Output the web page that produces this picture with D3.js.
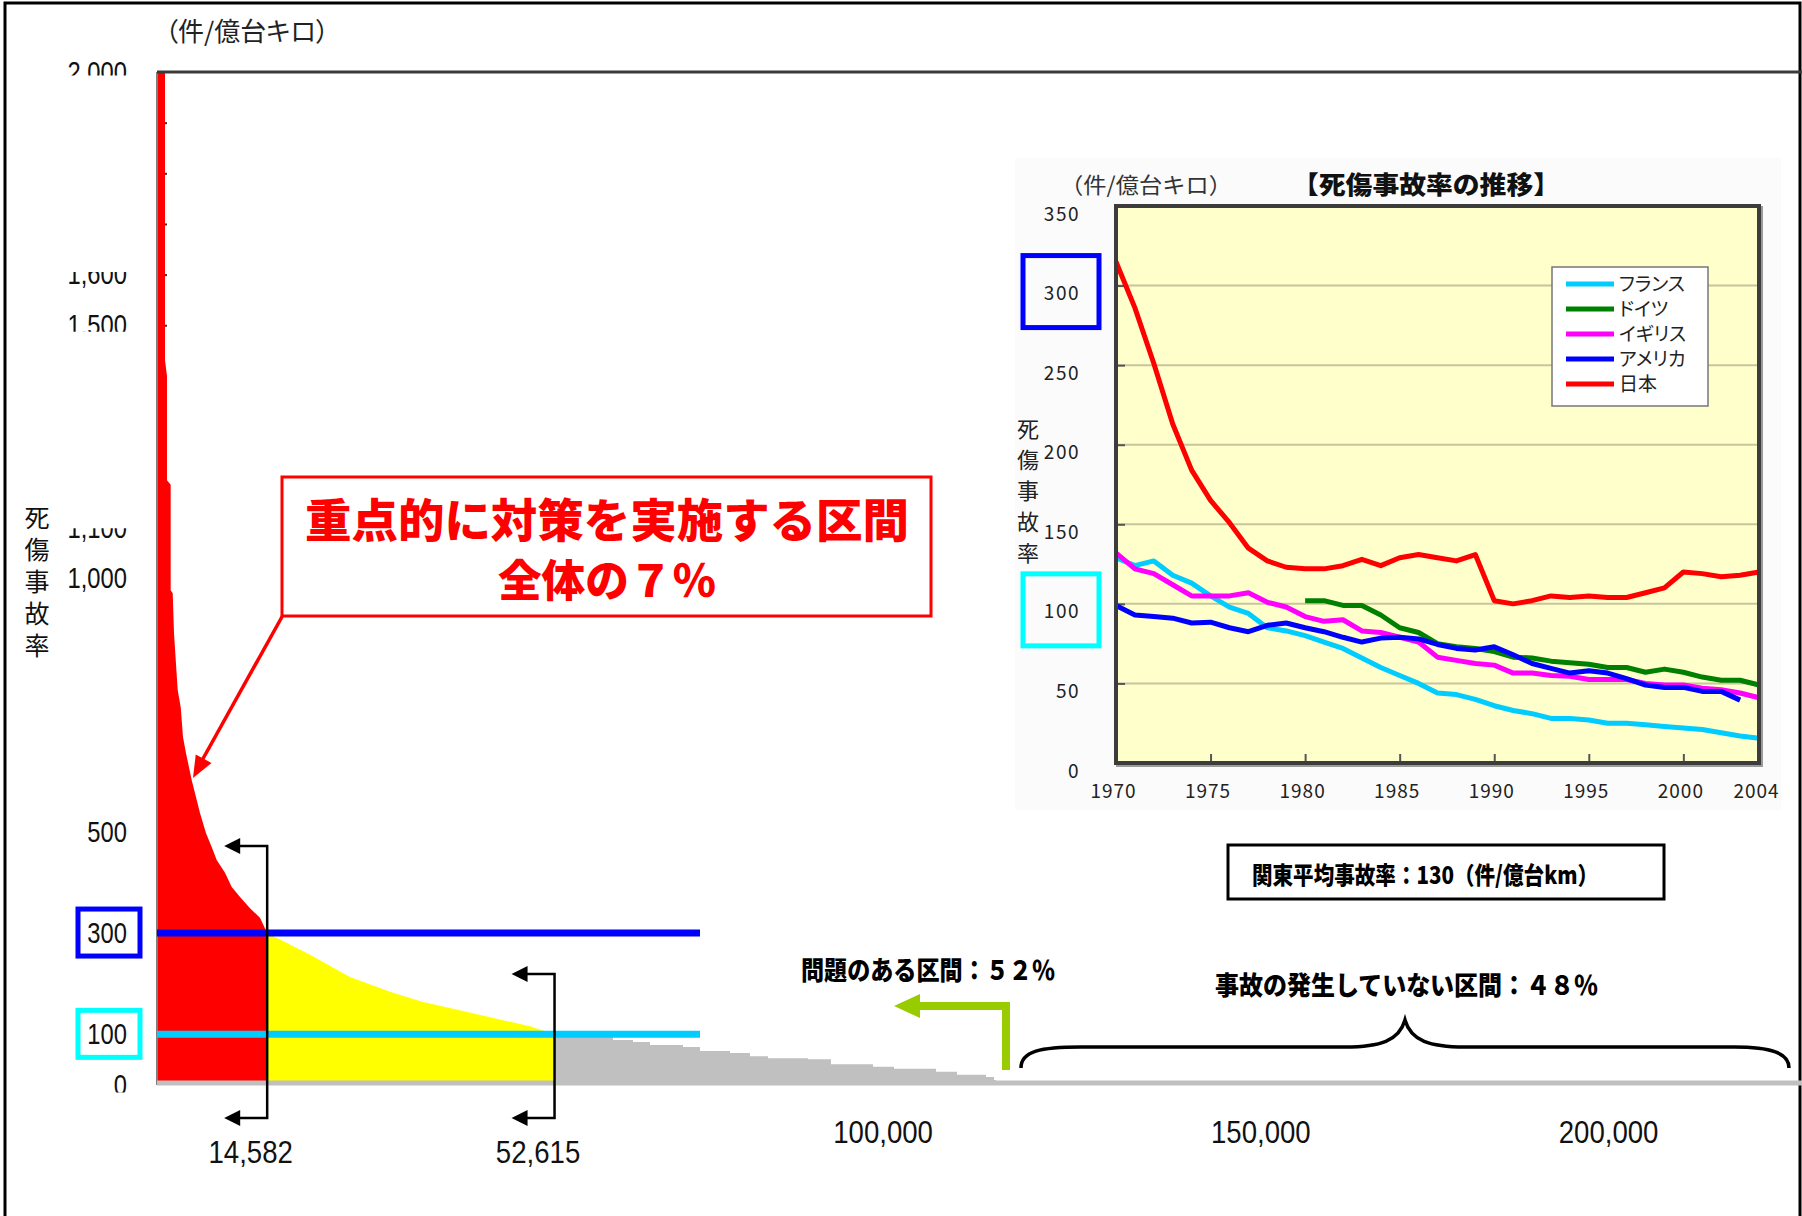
<!DOCTYPE html>
<html>
<head>
<meta charset="utf-8">
<script src="https://cdn.jsdelivr.net/npm/d3@7"></script>
<style>
  html, body { margin: 0; padding: 0; background: #fff; }
  svg { display: block; }
</style>
</head>
<body>
<svg id="chart" width="1802" height="1216"></svg>
<script>
// ---------- Road sections sorted by casualty-accident rate (件/億台キロ) ----------
const sectionRank = [0, 1060, 1060, 1320, 1320, 1810, 1810, 2080, 2250, 2740, 3140, 3440, 3840, 4590,
  5250, 5690, 6490, 7240, 7900, 9000, 9890, 10990, 12310, 13630, 14582,
  20250, 25540, 30840, 35210, 40500, 45790, 49370, 52615,
  53730, 57710, 60350, 63000, 65250, 69620, 71870, 75840, 78480, 80870, 86160, 89200,
  94760, 97540, 103100, 105880, 109720, 110780, 111040];
const accidentRate = [2000, 2000, 1431, 1400, 1194, 1185, 977, 971, 892, 780, 746, 687, 655, 602,
  563, 537, 497, 470, 444, 419, 391, 371, 349, 330, 300,
  257, 213, 184, 164, 146, 128, 116, 100,
  100, 95, 89, 85, 79, 75, 67, 63, 57, 53, 51, 41,
  36, 32, 26, 20, 16, 10, 0];
const redLimit = 14582;      // sections at 300 or above
const yellowLimit = 52615;   // sections at 100 or above
const sectionTotal = 216000;
const thresholdValues = [300, 100];
const rateTicks = [0, 100, 300, 500, 1000, 1100, 1500, 1600, 2000];
const rankTicks = [100000, 150000, 200000];
const boundaryTicks = [redLimit, yellowLimit];

// ---------- International trend 1970-2004 ----------
const years = [1970, 1971, 1972, 1973, 1974, 1975, 1976, 1977, 1978, 1979, 1980, 1981, 1982, 1983,
  1984, 1985, 1986, 1987, 1988, 1989, 1990, 1991, 1992, 1993, 1994, 1995, 1996, 1997, 1998, 1999,
  2000, 2001, 2002, 2003, 2004];
const franceRate = [129, 124, 127, 118, 113, 105, 98, 94, 85, 83, 80, 76, 72, 66, 60, 55, 50, 44, 43, 40,
  36, 33, 31, 28, 28, 27, 25, 25, 24, 23, 22, 21, 19, 17, 15.5];
const germanyRate = [null, null, null, null, null, null, null, null, null, null, 102, 102, 99, 99, 93, 85,
  82, 75, 73, 72, 70, 66.5, 66, 64, 63, 62, 60, 60, 57, 59, 57, 54, 52, 52, 49];
const ukRate = [132, 122, 119, 112, 105, 105, 105, 107, 101, 98, 92, 89, 90, 83, 82, 79, 76, 66.5, 64.5,
  62.5, 61.5, 56.5, 56.5, 55, 54.5, 52.5, 52.5, 52.5, 50, 49, 49, 47, 46, 44, 41];
const usaRate = [99, 93, 92, 91, 88, 88.5, 85, 82.5, 86.5, 88, 85, 82.5, 79, 76, 78.5, 79, 78, 74.5, 72,
  71, 73, 68, 62.5, 59.5, 56.5, 58, 56.5, 53, 49, 47.5, 47.5, 45, 45, 39.5, null];
const japanRate = [315, 286, 251, 213, 184, 165, 151, 135, 127, 123, 122, 122, 124, 128, 124, 129, 131,
  129, 127, 131, 102, 100, 102, 105, 104, 105, 104, 104, 107, 110, 120, 119, 117, 118, 120];
const countryNames = ["フランス", "ドイツ", "イギリス", "アメリカ", "日本"];
const insetYTicks = [0, 50, 100, 150, 200, 250, 300, 350];
const insetXTicks = [1970, 1975, 1980, 1985, 1990, 1995, 2000, 2004];

// ---------- drawing ----------
const W = 1802, H = 1216;
const FONT_NUM = "'Liberation Sans',Arial,sans-serif";
const FONT_JP = "'Noto Sans CJK JP','Noto Sans JP',sans-serif";

const svg = d3.select("#chart");
const defs = svg.append("defs");
svg.append("rect").attr("width", W).attr("height", H).attr("fill", "#fff");

// outer frame
svg.append("path").attr("d", `M5,${H} V3 H1800 V${H}`)
  .attr("fill", "none").attr("stroke", "#000").attr("stroke-width", 3);

// scales of the main distribution
const xs = d3.scaleLinear().domain([0, sectionTotal]).range([157, 1789]);
const ys = d3.scaleLinear().domain([0, 2000]).range([1085, 72]);

// unit label
svg.append("text").attr("x", 165).attr("y", 41)
  .style("font-family", FONT_JP).style("font-size", "26px").style("font-feature-settings", "'palt'")
  .attr("fill", "#222").text("（件/億台キロ）");

// inner minor ticks
svg.append("g").attr("transform", `translate(${xs(0)},0)`)
  .call(d3.axisRight(ys).tickValues(d3.range(100, 2000, 100)).tickSize(10).tickFormat(""))
  .call(g => g.select(".domain").remove())
  .selectAll("line").attr("stroke", "#333").attr("stroke-width", 2);

// distribution area, coloured by band
const rows = sectionRank.map((r, i) => ({ rank: r, rate: accidentRate[i] }));
const areaLinear = d3.area().x(d => xs(d.rank)).y0(ys(0)).y1(d => ys(d.rate));
const areaStep = d3.area().curve(d3.curveStepAfter).x(d => xs(d.rank)).y0(ys(0)).y1(d => ys(d.rate));
const bands = [
  { id: "band-red", from: 0, to: redLimit, color: "#FF0000", gen: areaLinear, data: rows },
  { id: "band-yellow", from: redLimit, to: yellowLimit, color: "#FFFF00", gen: areaLinear, data: rows },
  { id: "band-gray", from: yellowLimit, to: sectionTotal, color: "#C0C0C0", gen: areaStep,
    data: rows.filter(d => d.rank >= yellowLimit) }
];
bands.forEach(b => {
  defs.append("clipPath").attr("id", b.id).append("rect")
    .attr("x", xs(b.from)).attr("y", 0).attr("width", xs(b.to) - xs(b.from)).attr("height", H);
  svg.append("path").attr("d", b.gen(b.data)).attr("fill", b.color)
    .attr("clip-path", `url(#${b.id})`);
});

// plot frame pieces
svg.append("line").attr("x1", xs(0)).attr("x2", xs(0)).attr("y1", ys(2000)).attr("y2", ys(0))
  .attr("stroke", "#7f7f7f").attr("stroke-width", 2);
svg.append("line").attr("x1", xs(0)).attr("x2", W).attr("y1", ys(2000)).attr("y2", ys(2000))
  .attr("stroke", "#3a3a3a").attr("stroke-width", 3);
svg.append("line").attr("x1", xs(0)).attr("x2", W).attr("y1", ys(0) - 2).attr("y2", ys(0) - 2)
  .attr("stroke", "#C0C0C0").attr("stroke-width", 5);

// threshold lines and their boxed labels
const thresholdColors = ["#0000FF", "#00CCFF"];
const boxColors = ["#0000FF", "#00FFFF"];
thresholdValues.forEach((v, i) => {
  svg.append("line").attr("x1", xs(0)).attr("x2", 700).attr("y1", ys(v)).attr("y2", ys(v))
    .attr("stroke", thresholdColors[i]).attr("stroke-width", 7);
  svg.append("rect").attr("x", 78).attr("y", ys(v) - 24).attr("width", 62).attr("height", 47)
    .attr("fill", "#fff").attr("stroke", boxColors[i]).attr("stroke-width", 5);
});

// y axis labels (narrow digits; several of them partly hidden, as printed)
const yAxisG = svg.append("g").attr("transform", `translate(${xs(0)},0)`)
  .call(d3.axisLeft(ys).tickValues(rateTicks).tickSize(0).tickPadding(30).tickFormat(d3.format(",")))
  .call(g => g.select(".domain").remove());
yAxisG.selectAll("text").attr("x", 0).attr("transform", "translate(-30,0) scale(0.82,1)")
  .style("font-family", FONT_NUM).style("font-size", "29px").attr("fill", "#111");
const labelCut = new Map([[2000, ["above", 3]], [1600, ["below", -3]], [1500, ["above", 6]],
  [1100, ["below", 0]], [0, ["above", 7]]]);
yAxisG.selectAll(".tick").each(function (d) {
  if (!labelCut.has(d)) return;
  const [side, off] = labelCut.get(d);
  const id = "cut-" + d;
  const r = defs.append("clipPath").attr("id", id).append("rect").attr("x", -150).attr("width", 150);
  if (side === "above") r.attr("y", -40).attr("height", 40 + off);
  else r.attr("y", off).attr("height", 40);
  d3.select(this).select("text").attr("clip-path", `url(#${id})`);
});

// vertical axis titles
function verticalTitle(x, yTop, size, spacing, color) {
  return svg.append("text").attr("x", x).attr("y", yTop)
    .style("writing-mode", "vertical-rl").style("font-family", FONT_JP)
    .style("font-size", size + "px").style("letter-spacing", spacing + "px")
    .attr("fill", color).text("死傷事故率");
}
verticalTitle(37, 505, 25, 7, "#111");

// boundary brackets with left-pointing arrows
function arrowHead(tipX, tipY, dx, dy, len, half, color) {
  const n = Math.hypot(dx, dy), ux = dx / n, uy = dy / n;
  const bx = tipX - ux * len, by = tipY - uy * len;
  svg.append("polygon")
    .attr("points", [[tipX, tipY], [bx - uy * half, by + ux * half], [bx + uy * half, by - ux * half]].join(" "))
    .attr("fill", color);
}
const bracketTops = [846, 974];
boundaryTicks.forEach((rank, i) => {
  const x = xs(rank), top = bracketTops[i], bottom = 1118, arm = 43;
  svg.append("path").attr("d", `M${x - arm + 14},${top} H${x} V${bottom} H${x - arm + 14}`)
    .attr("fill", "none").attr("stroke", "#000").attr("stroke-width", 2.5);
  arrowHead(x - arm, top, -1, 0, 16, 8, "#000");
  arrowHead(x - arm, bottom, -1, 0, 16, 8, "#000");
});

// x axis labels (narrow digits, set slightly left of their ticks)
const labelShift = new Map([[200000, -60]]);
function narrowLabels(sel, y, dx) {
  sel.selectAll(".tick text").attr("x", 0).attr("y", 0).attr("dy", 0)
    .attr("transform", d => `translate(${labelShift.get(d) ?? dx},${y}) scale(0.89,1)`)
    .style("font-family", FONT_NUM).style("font-size", "31px").attr("fill", "#111");
}
const xAxisMain = svg.append("g").attr("transform", `translate(0,${ys(0)})`)
  .call(d3.axisBottom(xs).tickValues(rankTicks).tickSize(0).tickFormat(d3.format(",")))
  .call(g => g.select(".domain").remove());
narrowLabels(xAxisMain, 58, -30);
const xAxisBounds = svg.append("g").attr("transform", `translate(0,${ys(0)})`)
  .call(d3.axisBottom(xs).tickValues(boundaryTicks).tickSize(0).tickFormat(d3.format(",")))
  .call(g => g.select(".domain").remove());
narrowLabels(xAxisBounds, 78, -17);

// callout for the priority sections
svg.append("rect").attr("x", 282).attr("y", 477).attr("width", 649).attr("height", 139)
  .attr("fill", "#fff").attr("stroke", "#FF0000").attr("stroke-width", 3);
svg.append("text").attr("x", 607).attr("y", 537).attr("text-anchor", "middle")
  .attr("textLength", 604).attr("lengthAdjust", "spacingAndGlyphs")
  .style("font-family", FONT_JP).style("font-size", "46px").style("font-weight", 900)
  .attr("fill", "#FF0000").text("重点的に対策を実施する区間");
svg.append("text").attr("x", 607).attr("y", 597).attr("text-anchor", "middle")
  .attr("textLength", 218).attr("lengthAdjust", "spacingAndGlyphs")
  .style("font-family", FONT_JP).style("font-size", "44px").style("font-weight", 900)
  .attr("fill", "#FF0000").text("全体の７％");
svg.append("line").attr("x1", 283).attr("y1", 615).attr("x2", 200).attr("y2", 764)
  .attr("stroke", "#FF0000").attr("stroke-width", 3.5);
arrowHead(193, 778, 193 - 283, 778 - 615, 22, 9, "#FF0000");

// end of accident sections: green arrow and brace
const dataEndX = xs(sectionRank[sectionRank.length - 1]);
const gx = dataEndX + 10;
svg.append("path").attr("d", `M${gx},1070 V1006 H918`)
  .attr("fill", "none").attr("stroke", "#99CC00").attr("stroke-width", 8);
arrowHead(894, 1006, -1, 0, 26, 12, "#99CC00");
svg.append("text").attr("x", 801).attr("y", 980).attr("textLength", 254).attr("lengthAdjust", "spacingAndGlyphs")
  .style("font-family", FONT_JP).style("font-size", "26px").style("font-weight", 900)
  .attr("fill", "#000").text("問題のある区間：５２％");

const L = dataEndX + 25, R = xs(sectionTotal), M = (L + R) / 2, fy = 1047, py = 1020, ey = 1068;
svg.append("path")
  .attr("d", `M${L},${ey} C${L},${fy + 4} ${L + 20},${fy} ${L + 60},${fy} H${M - 60}` +
    ` C${M - 25},${fy} ${M - 6},${fy - 6} ${M},${py} C${M + 6},${fy - 6} ${M + 25},${fy} ${M + 60},${fy}` +
    ` H${R - 55} C${R - 18},${fy} ${R},${fy + 6} ${R},${ey}`)
  .attr("fill", "none").attr("stroke", "#000").attr("stroke-width", 3.5);
svg.append("text").attr("x", 1215).attr("y", 995).attr("textLength", 383).attr("lengthAdjust", "spacingAndGlyphs")
  .style("font-family", FONT_JP).style("font-size", "26px").style("font-weight", 900)
  .attr("fill", "#000").text("事故の発生していない区間：４８％");

// Kanto average box
svg.append("rect").attr("x", 1228).attr("y", 845).attr("width", 436).attr("height", 54)
  .attr("fill", "#fff").attr("stroke", "#000").attr("stroke-width", 3);
svg.append("text").attr("x", 1252).attr("y", 884).attr("textLength", 346).attr("lengthAdjust", "spacingAndGlyphs")
  .style("font-family", FONT_JP).style("font-size", "24px").style("font-weight", 900)
  .attr("fill", "#000").text("関東平均事故率：130（件/億台km）");

// ---------- inset: trend by country ----------
const xi = d3.scaleLinear().domain([1970, 2004]).range([1116, 1759]);
const yi = d3.scaleLinear().domain([0, 350]).range([763, 206]);
const inset = svg.append("g");
inset.append("rect").attr("x", 1015).attr("y", 158).attr("width", 766).attr("height", 652).attr("fill", "#FBFBFB");
inset.append("rect").attr("x", 1118).attr("y", 208).attr("width", xi(2004) - xi(1970)).attr("height", yi(0) - yi(350))
  .attr("fill", "none").attr("stroke", "#9a9a9a").attr("stroke-width", 4);
inset.append("rect").attr("x", xi(1970)).attr("y", yi(350)).attr("width", xi(2004) - xi(1970))
  .attr("height", yi(0) - yi(350)).attr("fill", "#FFFFCC");
inset.append("g").selectAll("line").data(insetYTicks.filter(v => v > 0 && v < 350)).join("line")
  .attr("x1", xi(1970)).attr("x2", xi(2004)).attr("y1", d => yi(d)).attr("y2", d => yi(d))
  .attr("stroke", "#C8C49C").attr("stroke-width", 2);
inset.append("g").attr("transform", `translate(${xi(1970)},0)`)
  .call(d3.axisRight(yi).tickValues(insetYTicks).tickSize(9).tickFormat(""))
  .call(g => g.select(".domain").remove())
  .selectAll("line").attr("stroke", "#555").attr("stroke-width", 2);
inset.append("g").attr("transform", `translate(0,${yi(0)})`)
  .call(d3.axisTop(xi).tickValues(insetXTicks.slice(1, -1)).tickSize(9).tickFormat(""))
  .call(g => g.select(".domain").remove())
  .selectAll("line").attr("stroke", "#555").attr("stroke-width", 2);

const seriesList = [franceRate, germanyRate, ukRate, usaRate, japanRate];
const seriesColors = ["#00CCFF", "#008000", "#FF00FF", "#0000FF", "#FF0000"];
const lineGen = d3.line().defined(d => d[1] != null).x(d => xi(d[0])).y(d => yi(d[1]));
seriesList.forEach((s, i) => {
  inset.append("path").attr("d", lineGen(years.map((y, j) => [y, s[j]])))
    .attr("fill", "none").attr("stroke", seriesColors[i]).attr("stroke-width", 5)
    .attr("stroke-linejoin", "round");
});
inset.append("rect").attr("x", xi(1970)).attr("y", yi(350)).attr("width", xi(2004) - xi(1970))
  .attr("height", yi(0) - yi(350)).attr("fill", "none").attr("stroke", "#3c3c3c").attr("stroke-width", 4);

const iy = inset.append("g").attr("transform", `translate(${xi(1970)},0)`)
  .call(d3.axisLeft(yi).tickValues(insetYTicks).tickSize(0).tickPadding(36))
  .call(g => g.select(".domain").remove());
iy.selectAll("text").attr("y", 8).style("font-family", FONT_JP).style("font-size", "19px")
  .style("letter-spacing", "1.5px").attr("fill", "#222");
const ix = inset.append("g").attr("transform", `translate(0,${yi(0)})`)
  .call(d3.axisBottom(xi).tickValues(insetXTicks).tickSize(0).tickPadding(22).tickFormat(d3.format("d")))
  .call(g => g.select(".domain").remove());
ix.selectAll("text").attr("dx", -3).style("font-family", FONT_JP).style("font-size", "19px")
  .style("letter-spacing", "1px").attr("fill", "#222");

inset.append("text").attr("x", 1060).attr("y", 193).attr("textLength", 172).attr("lengthAdjust", "spacingAndGlyphs")
  .style("font-family", FONT_JP).style("font-size", "22px").attr("fill", "#333").text("（件/億台キロ）");
inset.append("text").attr("x", 1292).attr("y", 194).attr("textLength", 268).attr("lengthAdjust", "spacingAndGlyphs")
  .style("font-family", FONT_JP).style("font-size", "25px").style("font-weight", 900)
  .attr("fill", "#111").text("【死傷事故率の推移】");
verticalTitle(1028, 418, 22, 9, "#222");

// the boxed 300 / 100 values on the inset axis
thresholdValues.forEach((v, i) => {
  inset.append("rect").attr("x", 1023).attr("y", yi(v) - 30).attr("width", 76).attr("height", 72)
    .attr("fill", "none").attr("stroke", boxColors[i]).attr("stroke-width", 5);
});

// legend
const lg = inset.append("g");
lg.append("rect").attr("x", 1552).attr("y", 267).attr("width", 156).attr("height", 139)
  .attr("fill", "#fff").attr("stroke", "#777").attr("stroke-width", 1.5);
countryNames.forEach((name, i) => {
  const y = 284 + i * 25;
  lg.append("line").attr("x1", 1566).attr("x2", 1614).attr("y1", y).attr("y2", y)
    .attr("stroke", seriesColors[i]).attr("stroke-width", 5);
  lg.append("text").attr("x", 1619).attr("y", y + 7)
    .style("font-family", FONT_JP).style("font-size", "19px").style("font-feature-settings", "'palt'")
    .attr("fill", "#222").text(name);
});
</script>
</body>
</html>
